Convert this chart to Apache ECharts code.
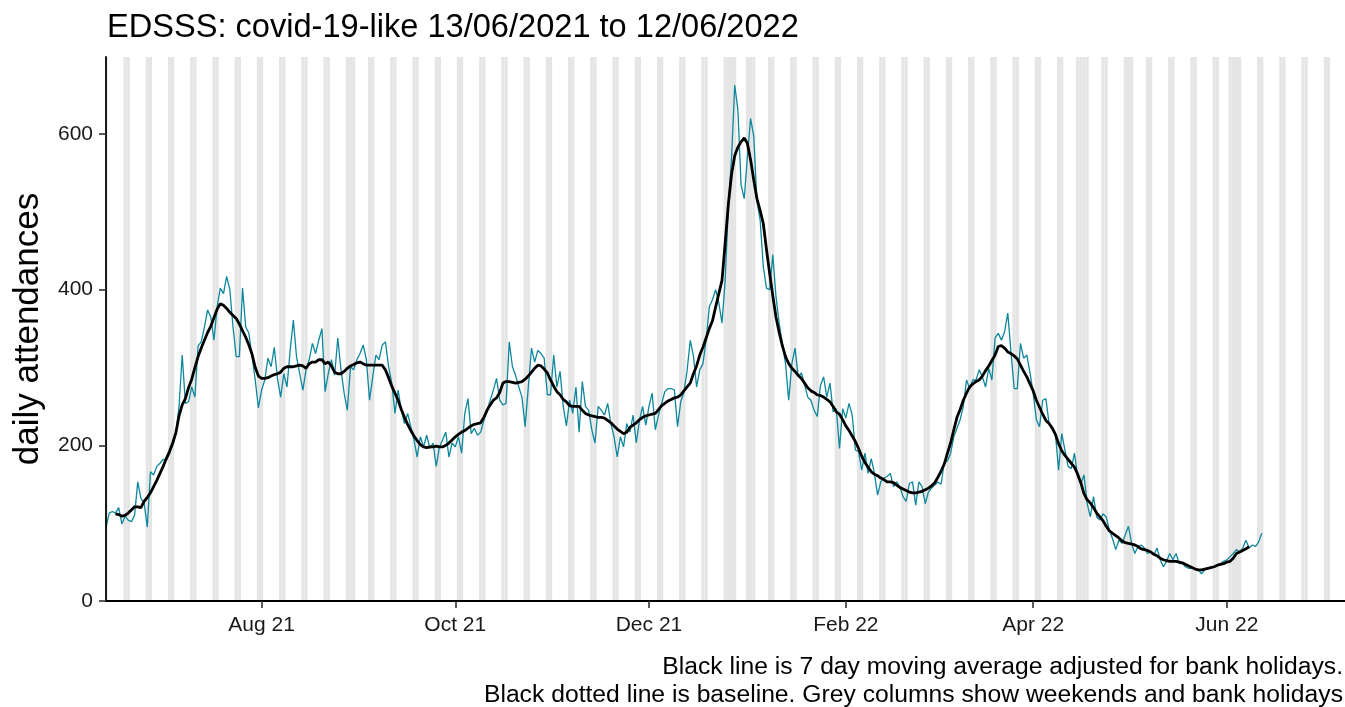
<!DOCTYPE html>
<html>
<head>
<meta charset="utf-8">
<script src="https://cdn.jsdelivr.net/npm/echarts@6/dist/echarts.min.js"></script>
<style>
html,body{margin:0;padding:0;background:#fff;}
#chart{width:1345px;height:707px;}
</style>
</head>
<body>
<div id="chart"></div>
<script>
// ---------- data ----------
const startDate = '2021-06-13';
const titleText = 'EDSSS: covid-19-like 13/06/2021 to 12/06/2022';
const yAxisTitle = 'daily attendances';
const footnoteLines = [
  'Black line is 7 day moving average adjusted for bank holidays.',
  'Black dotted line is baseline. Grey columns show weekends and bank holidays'
];

// daily attendances, one value per day from 13/06/2021 to 12/06/2022
const dailyAttendances = [
  94,113,115,113,120,99,109,104,102,110,
  153,132,126,95,166,162,173,177,182,181,
  190,200,215,250,316,254,256,275,262,328,
  333,352,374,365,335,378,402,395,417,400,
  352,314,314,402,352,344,314,284,248,271,
  284,312,301,326,286,262,292,275,322,361,
  314,292,271,297,310,331,318,335,350,269,
  292,310,290,338,297,267,245,301,297,310,
  318,329,310,258,288,316,310,329,333,301,
  280,241,271,245,228,241,224,207,185,211,
  198,213,196,203,173,198,207,217,185,203,
  198,211,190,241,260,215,222,213,217,232,
  245,258,271,286,258,252,254,333,301,290,
  275,262,224,275,325,307,322,318,312,265,
  265,316,275,295,250,225,258,241,275,217,
  282,250,245,220,203,250,245,239,254,228,
  211,185,211,198,228,217,239,203,232,250,
  226,250,267,220,239,254,269,273,273,271,
  224,256,268,296,335,315,275,297,305,335,
  378,387,400,383,357,412,507,569,663,631,
  535,517,571,620,597,513,490,430,402,400,
  445,391,357,331,305,258,305,325,288,293,
  278,262,258,245,237,277,288,262,280,243,
  247,196,247,235,254,239,194,192,168,190,
  164,183,164,136,153,158,160,164,147,153,
  147,134,128,151,153,123,153,147,125,140,
  145,149,153,150,178,180,190,211,222,233,
  250,284,273,284,284,297,288,275,299,284,
  338,344,335,346,370,320,273,273,331,312,
  316,293,267,233,224,258,260,228,224,215,
  168,215,194,173,170,190,160,150,162,125,
  108,134,108,104,112,108,91,80,66,78,
  74,85,96,74,61,70,72,68,61,63,
  59,68,53,44,51,61,53,61,48,48,
  44,42,42,42,40,35,40,42,44,44,
  46,48,51,53,57,61,66,63,68,78,
  68,72,70,76,87
];

// 7 day moving average (black line), same days; null where not drawn
const movingAverage = [
  null,null,null,112,111,109,110,113,117,121,
  121,120,128,133,139,147,155,164,173,183,
  192,203,216,238,252,260,274,285,300,314,
  325,335,345,353,364,375,382,380,376,371,
  367,363,356,347,339,329,317,300,289,286,
  286,287,289,291,292,294,299,301,301,301,
  302,303,302,299,305,307,307,310,310,305,
  307,302,294,292,292,295,299,302,304,306,
  307,305,303,303,303,303,303,303,297,287,
  276,267,258,246,236,227,219,212,206,201,
  198,197,198,198,199,198,198,200,203,207,
  211,214,217,219,222,225,227,228,229,236,
  245,252,258,261,268,280,282,282,281,280,
  281,282,285,289,294,299,303,302,298,293,
  284,276,269,265,259,256,251,250,250,250,
  245,241,239,238,237,236,236,235,232,229,
  225,221,218,215,217,223,226,229,233,236,
  238,239,240,241,246,251,254,257,259,261,
  262,265,270,275,280,292,302,316,326,338,
  350,360,378,395,412,460,510,548,572,583,
  590,595,588,567,541,517,502,485,452,421,
  392,365,345,328,314,305,299,295,290,286,
  280,274,270,268,265,264,262,259,256,250,
  243,240,233,225,219,212,205,196,186,178,
  172,166,163,161,158,156,153,153,152,149,
  146,144,142,140,139,139,140,141,143,145,
  148,152,159,167,176,190,203,220,236,246,
  258,267,275,279,282,284,289,296,302,309,
  316,327,328,325,320,318,315,311,303,295,
  288,279,270,258,249,240,232,228,222,214,
  202,193,187,182,177,172,163,152,138,130,
  126,120,113,108,103,96,90,87,84,81,
  77,75,74,73,72,70,67,66,65,63,
  60,58,55,53,52,51,51,51,50,49,
  47,45,43,41,40,40,41,42,43,44,
  46,47,48,50,51,55,61,63,65,67,
  70,null,null,null,null
];

const tickDates  = ['2021-08-01','2021-10-01','2021-12-01','2022-02-01','2022-04-01','2022-06-01'];
const tickLabels = ['Aug 21','Oct 21','Dec 21','Feb 22','Apr 22','Jun 22'];
const yTicks = [0, 200, 400, 600];
const bankHolidays = ['2021-08-30','2021-12-27','2021-12-28','2022-01-03','2022-04-15','2022-04-18','2022-05-02','2022-06-02','2022-06-03'];
const greyColumnsEnd = '2022-07-03';
const xAxisEndDate = '2022-07-08';
const yAxisMax = 699;

// ---------- helpers ----------
function toUTC(s){ const p = s.split('-').map(Number); return Date.UTC(p[0], p[1]-1, p[2]); }
const t0 = toUTC(startDate);
function dayIndex(s){ return Math.round((toUTC(s) - t0) / 86400000); }

const tickDays = tickDates.map(dayIndex);
const labelByDay = {};
tickDays.forEach((d, i) => { labelByDay[d] = tickLabels[i]; });

const bankDays = new Set(bankHolidays.map(dayIndex));
const greyDays = [];
for (let d = 0; d <= dayIndex(greyColumnsEnd); d++) {
  const wd = new Date(t0 + d * 86400000).getUTCDay();
  if (wd === 0 || wd === 6 || bankDays.has(d)) greyDays.push([d]);
}

const dailyData = dailyAttendances.map((v, i) => [i, v]);
const maData = movingAverage.map((v, i) => [i, v]);

const FONT = '"Liberation Sans", Arial, Helvetica, sans-serif';

const chart = echarts.init(document.getElementById('chart'), null, {renderer: 'canvas'});
chart.setOption({
  animation: false,
  backgroundColor: '#ffffff',
  title: {
    text: titleText,
    left: 102,
    top: 7,
    textStyle: {fontFamily: FONT, fontSize: 32.6, fontWeight: 'normal', color: '#000'}
  },
  grid: {left: 106, right: 0, top: 57, bottom: 106, outerBoundsMode: 'none'},
  xAxis: {
    type: 'value',
    min: 0,
    max: dayIndex(xAxisEndDate) + 0.2,
    z: 10,
    splitLine: {show: false},
    axisLine: {show: true, onZero: false, lineStyle: {color: '#000', width: 1.8}},
    axisTick: {show: true, length: 7, customValues: tickDays, lineStyle: {color: '#333', width: 1.6}},
    axisLabel: {
      customValues: tickDays,
      margin: 14,
      fontFamily: FONT, fontSize: 21, color: '#1a1a1a',
      formatter: v => labelByDay[Math.round(v)] || ''
    }
  },
  yAxis: {
    type: 'value',
    min: 0,
    max: yAxisMax,
    z: 10,
    name: yAxisTitle,
    nameLocation: 'middle',
    nameGap: 60,
    nameTextStyle: {fontFamily: FONT, fontSize: 35, color: '#000'},
    splitLine: {show: false},
    axisLine: {show: true, lineStyle: {color: '#000', width: 1.8}},
    axisTick: {show: true, length: 7, customValues: yTicks, lineStyle: {color: '#333', width: 1.6}},
    axisLabel: {customValues: yTicks, margin: 13, fontFamily: FONT, fontSize: 21, color: '#1a1a1a'}
  },
  graphic: [{
    type: 'text',
    x: 1343, y: 653,
    style: {
      text: footnoteLines.join('\n'),
      align: 'right', verticalAlign: 'top',
      fontFamily: FONT, fontSize: 24.7, lineHeight: 28, fill: '#000'
    }
  }],
  series: [
    {
      type: 'custom',
      name: 'weekends and bank holidays',
      silent: true,
      clip: true,
      z: 1,
      data: greyDays,
      renderItem: function (params, api) {
        const d = api.value(0);
        const p0 = api.coord([d - 0.5, yAxisMax]);
        const p1 = api.coord([d + 0.5, 0]);
        return {
          type: 'rect',
          shape: {x: p0[0], y: p0[1], width: p1[0] - p0[0], height: p1[1] - p0[1]},
          style: {fill: '#e5e5e5'}
        };
      }
    },
    {
      type: 'line',
      name: 'daily',
      data: dailyData,
      showSymbol: false,
      z: 3,
      lineStyle: {color: '#0e879c', width: 1.3},
      itemStyle: {color: '#0e879c'}
    },
    {
      type: 'line',
      name: '7 day moving average',
      data: maData,
      showSymbol: false,
      connectNulls: false,
      z: 4,
      lineStyle: {color: '#000', width: 2.8},
      itemStyle: {color: '#000'}
    }
  ]
});
</script>
</body>
</html>
